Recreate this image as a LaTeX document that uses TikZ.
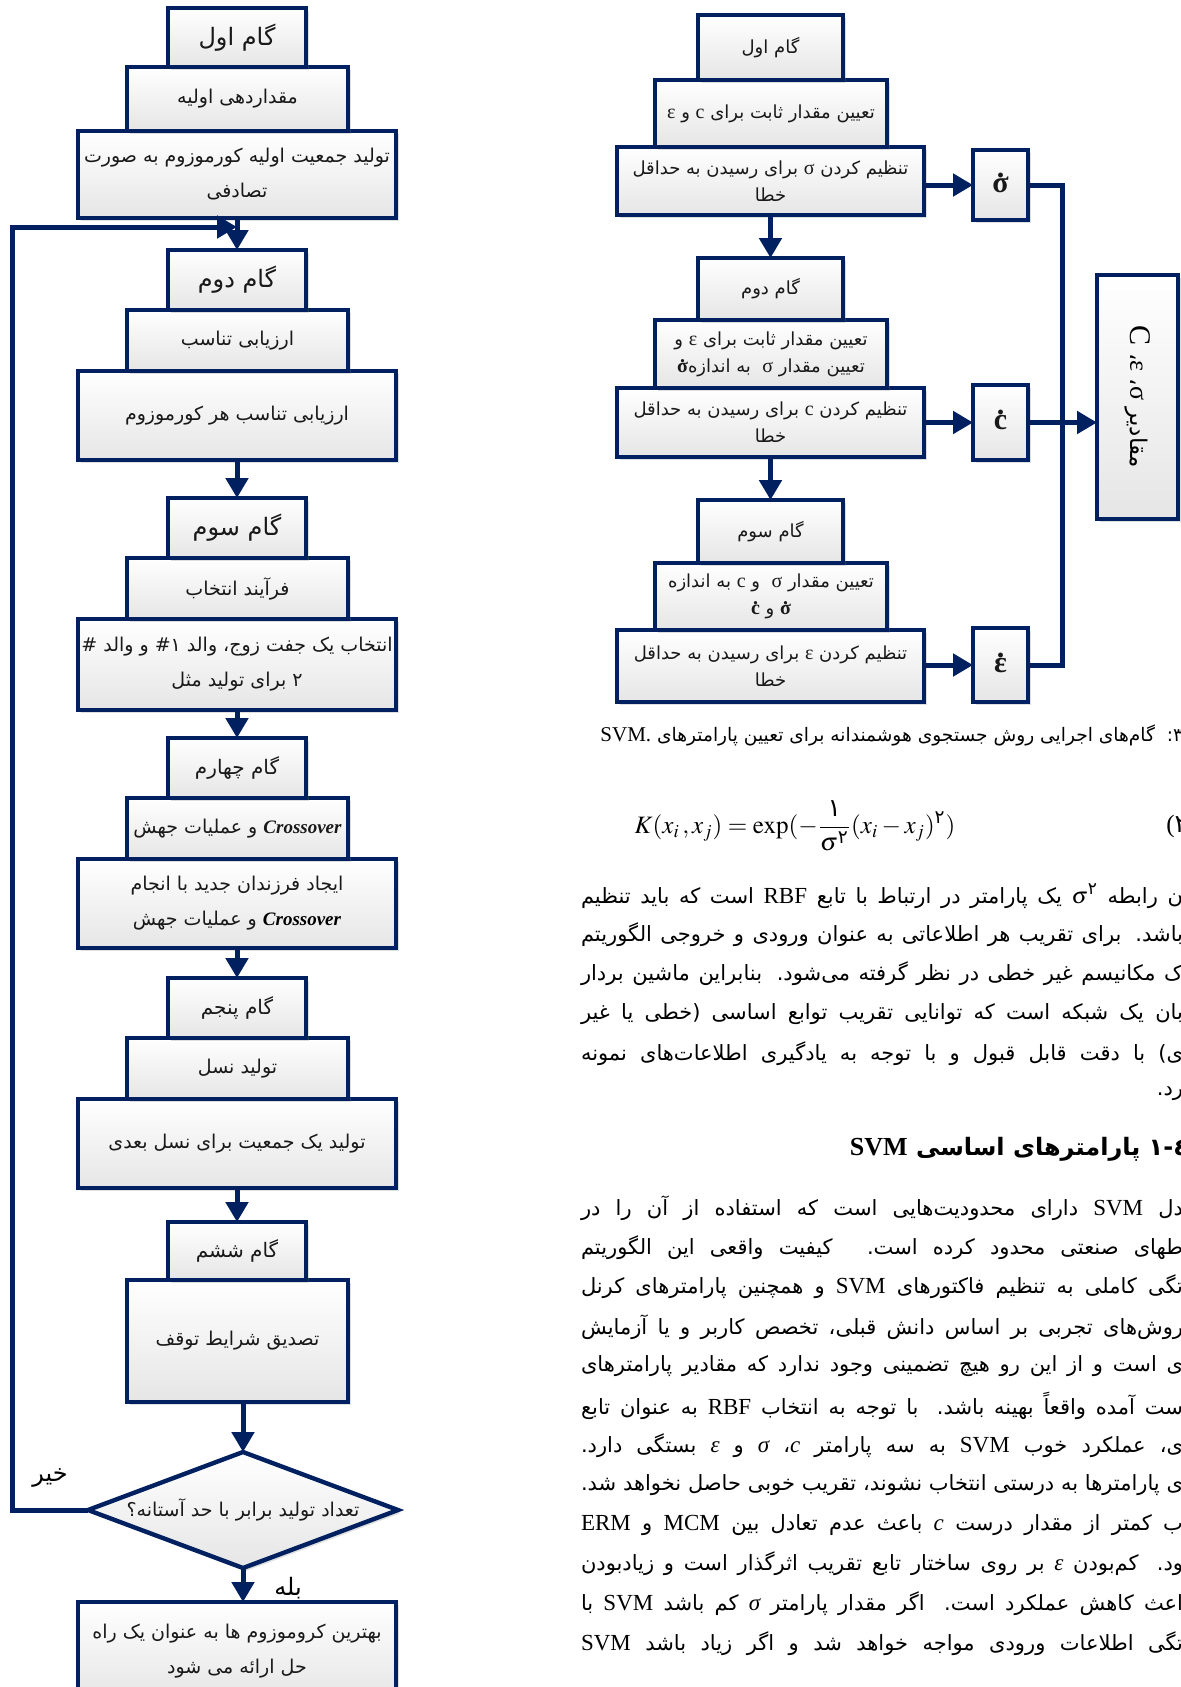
\documentclass[tikz,border=0pt]{standalone}
\usepackage{amsmath}
\usepackage{mathptmx}
\usepackage{fontspec}
\setmainfont{Liberation Serif}
\newfontfamily\ar[Script=Arabic]{DejaVu Sans}
\newfontfamily\lat{Liberation Serif}
\usetikzlibrary{arrows.meta,shapes.geometric,shadows}
\TeXXeTstate=1
\definecolor{navy}{HTML}{002060}
\newcommand\R[1]{\beginR #1\endR}
\newcommand\Lt[1]{\mbox{\lat #1}}
\newcommand\dotit[1]{\leavevmode\hbox{\ooalign{#1\cr\hidewidth\raisebox{0.5em}{.}\hidewidth\cr}}}
\newcommand\dsig{\mbox{\lat\bfseries\fontsize{10}{12}\selectfont\dotit{σ}}}
\newcommand\dcc{\mbox{\lat\bfseries\fontsize{10}{12}\selectfont\dotit{c}}}
\newcommand\bx[7][]{\node[box,#1,minimum width={(#5-#3)*0.5pt},minimum height={(#6-#4)*0.5pt}] (#2) at ({(#3+#5)/2},{(#4+#6)/2}) {#7};}
\newcommand\bline[3]{\node[bodytxt,anchor=east] (#1) at (1183,#2) {\makebox[301pt][s]{\R{#3}}};}
\newcommand\Lr[1]{\Lt{\fontsize{10}{12}\selectfont #1}}
\newcommand\Lb[1]{\Lt{\fontsize{11.5}{13}\selectfont #1}}
\tikzset{
  box/.style={draw=navy, line width=2.2pt, top color=white, bottom color=black!10,
    drop shadow={shadow xshift=1.5pt, shadow yshift=-1.5pt, opacity=0.25},
    inner sep=0pt, outer sep=0pt, align=center, text=black!90},
  arr/.style={draw=navy, line width=2.5pt, -{Triangle[length=10pt,width=11pt]}},
  ln/.style={draw=navy, line width=2.5pt},
  hbig/.style={font=\ar\fontsize{12}{14}\selectfont},
  hsm/.style={font=\ar\fontsize{10}{12}\selectfont},
  ltx/.style={font=\ar\fontsize{9.5}{17.5}\selectfont},
  rtx/.style={font=\ar\fontsize{9}{13.5}\selectfont},
  dotbox/.style={font=\lat\bfseries\fontsize{15}{16}\selectfont},
  lbl/.style={font=\ar\fontsize{12}{14}\selectfont, inner sep=0pt},
  bodytxt/.style={font=\ar\fontsize{10.5}{13}\selectfont, inner sep=0pt, outer sep=0pt},
}
\begin{document}
\begin{tikzpicture}[x=0.5pt,y=-0.5pt]
\useasboundingbox (0,0) rectangle (1181,1687);
\fill[white] (0,0) rectangle (1181,1687);
\begin{scope}
\clip (0,0) rectangle (1181,1687);
% ---------------- left flowchart ----------------
\bx[ltx]{l1}{78}{131}{396}{218}{\R{تولید جمعیت اولیه کورموزوم به صورت}\\\R{تصادفی}}
\bx[ltx]{m1}{127}{67}{348}{131}{\R{مقداردهی اولیه}}
\bx[hbig]{h1}{168}{8}{306}{67}{\R{گام اول}}
\bx[ltx]{l2}{78}{371}{396}{460}{\R{ارزیابی تناسب هر کورموزوم}}
\bx[ltx]{m2}{127}{310}{348}{371}{\R{ارزیابی تناسب}}
\bx[hbig]{h2}{168}{250}{306}{310}{\R{گام دوم}}
\bx[ltx]{l3}{78}{619}{396}{710}{\R{انتخاب یک جفت زوج، والد \#۱ و والد \#}\\\R{۲ برای تولید مثل}}
\bx[ltx]{m3}{127}{558}{348}{619}{\R{فرآیند انتخاب}}
\bx[hbig]{h3}{168}{498}{306}{558}{\R{گام سوم}}
\bx[ltx]{l4}{78}{859}{396}{948}{\R{ایجاد فرزندان جدید با انجام}\\\R{\Lt{\bfseries\itshape\color{black!50}Crossover} و عملیات جهش}}
\bx[ltx]{m4}{127}{798}{348}{859}{\R{\Lt{\bfseries\itshape Crossover} و عملیات جهش}}
\bx[hsm]{h4}{168}{738}{306}{798}{\R{گام چهارم}}
\bx[ltx]{l5}{78}{1099}{396}{1188}{\R{تولید یک جمعیت برای نسل بعدی}}
\bx[ltx]{m5}{127}{1038}{348}{1099}{\R{تولید نسل}}
\bx[hsm]{h5}{168}{978}{306}{1038}{\R{گام پنجم}}
\bx[ltx]{l6}{127}{1280}{348}{1402}{\R{تصدیق شرایط توقف}}
\bx[hsm]{h6}{168}{1222}{306}{1280}{\R{گام ششم}}
\node[box,ltx,diamond,aspect=2.67,minimum width=155pt,minimum height=58pt] (dia) at (243,1510) {\R{تعداد تولید برابر با حد آستانه؟}};
\bx[ltx]{fin}{78}{1602}{396}{1700}{\R{بهترین کروموزوم ها به عنوان یک راه}\\\R{حل ارائه می شود}}
\node[lbl] (no) at (50,1478) {\R{خیر}};
\node[lbl] (yes) at (288,1588) {\R{بله}};
\coordinate (merge) at (237,227);
\coordinate (loopx) at (12,0);
\draw[arr] (l1.south) -- (h2.north);
\draw[arr] (l2.south) -- (h3.north);
\draw[arr] (l3.south) -- (h4.north);
\draw[arr] (l4.south) -- (h5.north);
\draw[arr] (l5.south) -- (h6.north);
\draw[arr] (dia.north |- l6.south) -- (dia.north);
\draw[arr] (dia.south) -- (dia.south |- fin.north);
\draw[arr] (dia.west) -- (dia.west -| loopx) |- (merge);
% ---------------- right flowchart ----------------
\bx[rtx]{rl1}{617}{147}{924}{215}{\R{تنظیم کردن \Lr{σ} برای رسیدن به حداقل}\\\R{خطا}}
\bx[rtx]{rm1}{655}{80}{887}{147}{\R{تعیین مقدار ثابت برای \Lr{c} و \Lr{ε}}}
\bx[rtx]{rh1}{698}{15}{843}{80}{\R{گام اول}}
\bx[rtx]{rl2}{617}{388}{924}{457}{\R{تنظیم کردن \Lr{c} برای رسیدن به حداقل}\\\R{خطا}}
\bx[rtx]{rm2}{655}{320}{887}{388}{\R{تعیین مقدار ثابت برای \Lr{ε} و}\\\R{تعیین مقدار \Lr{σ} \ به اندازه\dsig}}
\bx[rtx]{rh2}{698}{258}{843}{320}{\R{گام دوم}}
\bx[rtx]{rl3}{617}{630}{924}{702}{\R{تنظیم کردن \Lr{ε} برای رسیدن به حداقل}\\\R{خطا}}
\bx[rtx]{rm3}{655}{563}{887}{630}{\R{تعیین مقدار \Lr{σ} \ و \Lr{c} به اندازه}\\\R{\dsig{} و \dcc}}
\bx[rtx]{rh3}{698}{500}{843}{563}{\R{گام سوم}}
\bx[dotbox]{sb1}{973}{150}{1028}{220}{\dotit{σ}}
\bx[dotbox]{sb2}{973}{385}{1028}{460}{\dotit{c}}
\bx[dotbox]{sb3}{973}{628}{1028}{702}{\dotit{ε}}
\bx[font=\ar\fontsize{12}{14}\selectfont]{big}{1097}{275}{1178}{519}{}
\node[rotate=-90,font=\ar\fontsize{11.5}{14}\selectfont] (bigt) at (big.center) {\R{مقادیر \Lt{\fontsize{13}{14}\selectfont σ}، \Lt{\fontsize{13}{14}\selectfont ε}، \Lt{\fontsize{15}{16}\selectfont C}}};
\coordinate (busx) at (1062,0);
\draw[arr] (rl1.south) -- (rh2.north);
\draw[arr] (rl2.south) -- (rh3.north);
\draw[arr] (sb1.west -| rl1.east) -- (sb1.west);
\draw[arr] (sb2.west -| rl2.east) -- (sb2.west);
\draw[arr] (sb3.west -| rl3.east) -- (sb3.west);
\draw[ln] (sb1.east) -- (sb1.east -| busx) -- (sb3.east -| busx) -- (sb3.east);
\draw[arr] (sb2.east) -- (sb2.east -| big.west);
% ---------------- text ----------------
\node[bodytxt,anchor=east,font=\ar\fontsize{9.3}{12}\selectfont] (cap) at (1183,735) {\R{۳:\ \ گام‌های اجرایی روش جستجوی هوشمندانه برای تعیین پارامترهای \Lt{\fontsize{10.5}{12}\selectfont SVM.}}};
\node[inner sep=0pt] (eq) at (795,826) {\fontsize{12.5}{14}\selectfont$\displaystyle K(x_i\,,x_j)=\exp(-\frac{\text{\ar ۱}}{\sigma^{\text{\ar ۲}}}(x_i-x_j)^{\text{\ar ۲}})$};
\node[inner sep=0pt,anchor=west,font=\fontsize{12.5}{14}\selectfont] (eqn) at (1166,826) {(\mbox{\ar ۲}};
\bline{p1}{896}{ن رابطه \mbox{\fontsize{11.5}{13}\selectfont$\sigma^{\text{\ar ۲}}$} یک پارامتر در ارتباط با تابع \Lb{RBF} است که باید تنظیم}
\bline{p2}{935}{باشد. برای تقریب هر اطلاعاتی به عنوان ورودی و خروجی الگوریتم}
\bline{p3}{974}{ک مکانیسم غیر خطی در نظر گرفته می‌شود. بنابراین ماشین بردار}
\bline{p4}{1014}{بان یک شبکه است که توانایی تقریب توابع اساسی (خطی یا غیر}
\bline{p5}{1054}{ی) با دقت قابل قبول و با توجه به یادگیری اطلاعات‌های نمونه}
\node[bodytxt,anchor=east] (p6) at (1183,1094) {\R{رد.}};
\node[bodytxt,anchor=east,font=\ar\bfseries\fontsize{12}{14}\selectfont] (head) at (1188,1149) {\R{٤-۱ پارامترهای اساسی \Lt{\bfseries\fontsize{13}{14}\selectfont SVM}}};
\bline{q1}{1208}{دل \Lb{SVM} دارای محدودیت‌هایی است که استفاده از آن را در}
\bline{q2}{1248}{طهای صنعتی محدود کرده است. کیفیت واقعی این الگوریتم}
\bline{q3}{1287}{تگی کاملی به تنظیم فاکتورهای \Lb{SVM} و همچنین پارامترهای کرنل}
\bline{q4}{1327}{روش‌های تجربی بر اساس دانش قبلی، تخصص کاربر و یا آزمایش}
\bline{q5}{1366}{ی است و از این رو هیچ تضمینی وجود ندارد که مقادیر پارامترهای}
\bline{q6}{1406}{ست آمده واقعاً بهینه باشد. با توجه به انتخاب \Lb{RBF} به عنوان تابع}
\bline{q7}{1446}{ی، عملکرد خوب \Lb{SVM} به سه پارامتر \Lb{\itshape c}، \Lb{\itshape σ} و \Lb{\itshape ε} بستگی دارد.}
\bline{q8}{1485}{ی پارامترها به درستی انتخاب نشوند، تقریب خوبی حاصل نخواهد شد.}
\bline{q9}{1525}{ب کمتر از مقدار درست \Lb{\itshape c} باعث عدم تعادل بین \Lb{MCM} و \Lb{ERM}}
\bline{q10}{1564}{ود. کم‌بودن \Lb{\itshape ε} بر روی ساختار تابع تقریب اثرگذار است و زیادبودن}
\bline{q11}{1604}{اعث کاهش عملکرد است. اگر مقدار پارامتر \Lb{\itshape σ} کم باشد \Lb{SVM} با}
\bline{q12}{1644}{تگی اطلاعات ورودی مواجه خواهد شد و اگر زیاد باشد \Lb{SVM}}
\end{scope}
\end{tikzpicture}
\end{document}
